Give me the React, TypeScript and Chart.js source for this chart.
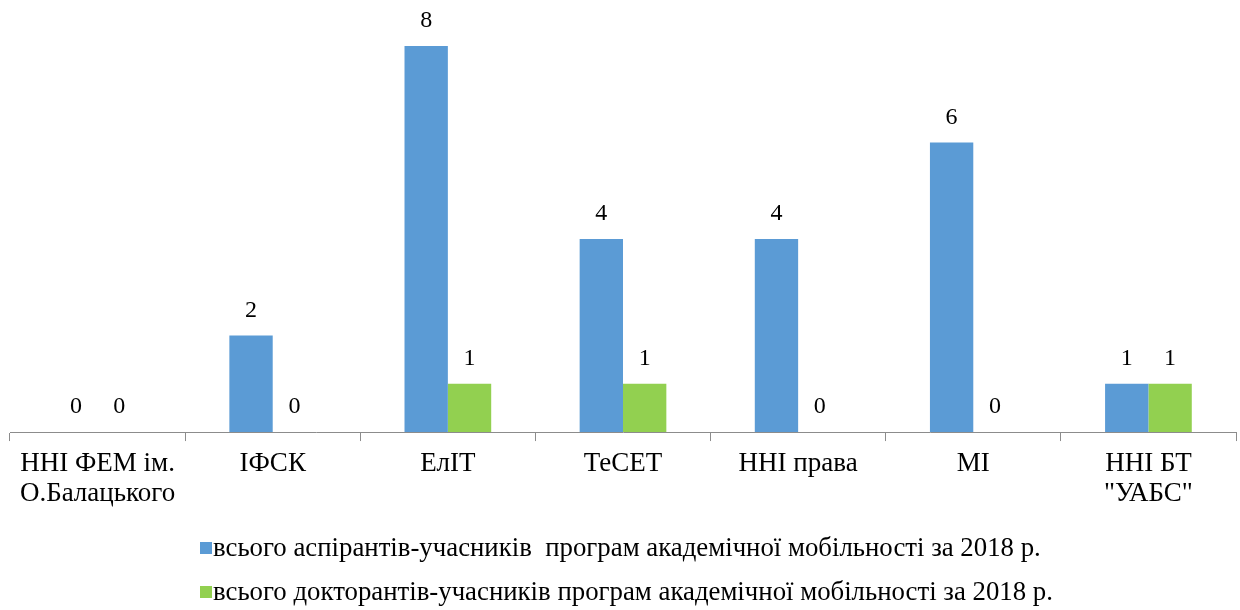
import React, { useEffect, useRef } from "react";
import { Chart, registerables } from "chart.js";

Chart.register(...registerables);

const categories: (string | string[])[] = [
  ["ННІ ФЕМ ім.", "О.Балацького"],
  "ІФСК",
  "ЕлІТ",
  "ТеСЕТ",
  "ННІ права",
  "МІ",
  ["ННІ БТ", "\"УАБС\""],
];
const aspirants = [0, 2, 8, 4, 4, 6, 1];
const doctorants = [0, 0, 1, 1, 0, 0, 1];
const seriesNames = [
  "всього аспірантів-учасників  програм академічної мобільності за 2018 р.",
  "всього докторантів-учасників програм академічної мобільності за 2018 р.",
];
const seriesColors = ["#5B9BD5", "#92D050"];
const FONT = "'Liberation Serif', 'Times New Roman', serif";

const valueLabels = {
  id: "valueLabels",
  afterDatasetsDraw(chart: any) {
    const ctx = chart.ctx;
    ctx.save();
    ctx.font = `24px ${FONT}`;
    ctx.fillStyle = "#000";
    ctx.textAlign = "center";
    ctx.textBaseline = "bottom";
    chart.data.datasets.forEach((ds: any, i: number) => {
      const meta = chart.getDatasetMeta(i);
      meta.data.forEach((bar: any, j: number) => {
        ctx.fillText(String(ds.data[j]), bar.x, bar.y - 13);
      });
    });
    ctx.restore();
  },
};

const bottomLegend = {
  id: "bottomLegend",
  afterDraw(chart: any) {
    const ctx = chart.ctx;
    ctx.save();
    ctx.font = `26.8px ${FONT}`;
    ctx.textBaseline = "middle";
    ctx.textAlign = "left";
    chart.data.datasets.forEach((ds: any, i: number) => {
      const cy = 548 + i * 44;
      ctx.fillStyle = ds.backgroundColor;
      ctx.fillRect(200, cy - 6, 12, 12);
      ctx.fillStyle = "#000";
      ctx.fillText(ds.label, 213, cy + 1);
    });
    ctx.restore();
  },
};

export default function App() {
  const ref = useRef<HTMLCanvasElement>(null);
  useEffect(() => {
    if (!ref.current) return;
    const chart = new Chart(ref.current, {
      type: "bar",
      data: {
        labels: categories,
        datasets: [
          { label: seriesNames[0], data: aspirants, backgroundColor: seriesColors[0] },
          { label: seriesNames[1], data: doctorants, backgroundColor: seriesColors[1] },
        ],
      },
      options: {
        animation: false,
        responsive: true,
        maintainAspectRatio: false,
        layout: { padding: { top: 46, left: 10, right: 4, bottom: 93 } },
        datasets: { bar: { categoryPercentage: 0.495, barPercentage: 1 } },
        scales: {
          x: {
            grid: { display: true, drawOnChartArea: false, tickLength: 9, color: "#8c8c8c", offset: true },
            border: { display: true, color: "#8c8c8c" },
            ticks: {
              font: { family: FONT, size: 27, lineHeight: 1.11 },
              color: "#000",
              padding: 8,
              maxRotation: 0,
              autoSkip: false,
            },
          },
          y: { display: false, min: 0, max: 8 },
        },
        plugins: {
          legend: { display: false },
          tooltip: { enabled: false },
        },
      },
      plugins: [valueLabels, bottomLegend],
    });
    return () => chart.destroy();
  }, []);
  return (
    <div style={{ position: "fixed", left: 0, top: 0, width: 1240, height: 610, background: "#fff" }}>
      <canvas ref={ref} />
    </div>
  );
}
